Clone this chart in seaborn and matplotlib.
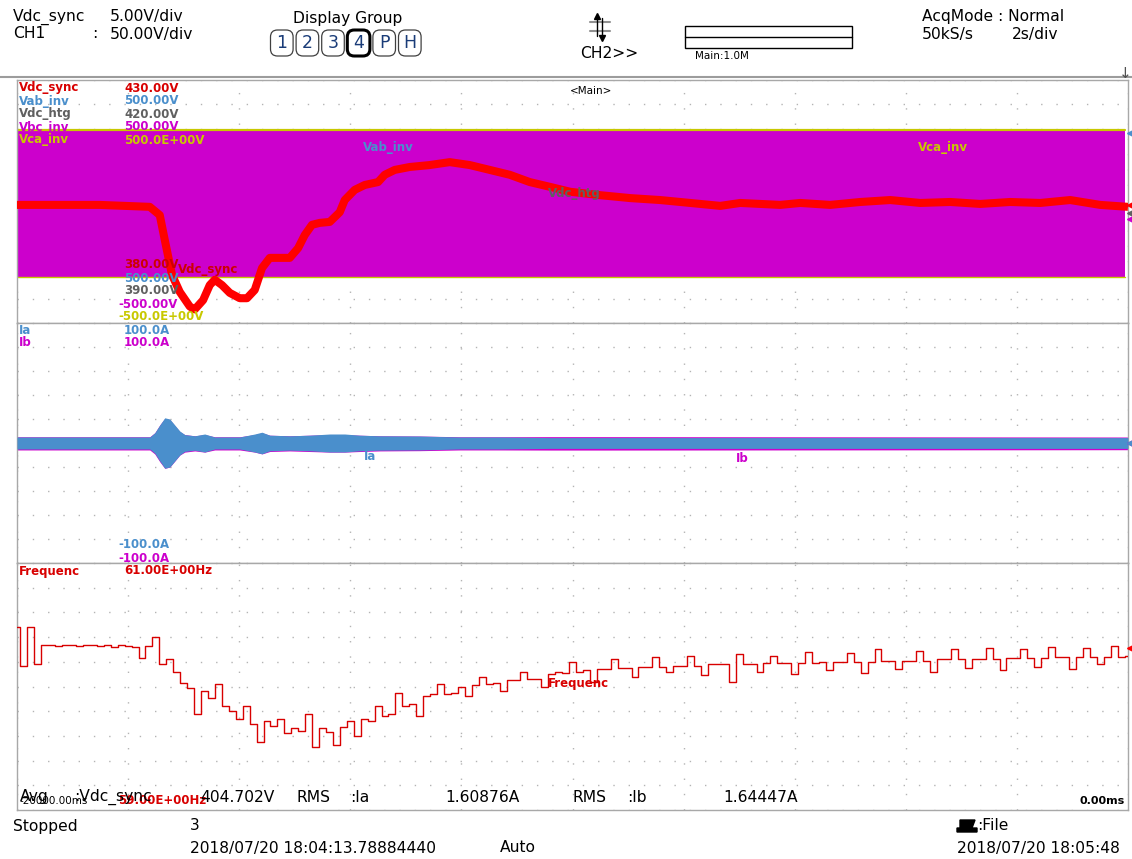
import numpy as np
import matplotlib
matplotlib.use("Agg")
import matplotlib.pyplot as plt
import seaborn as sns
from matplotlib.patches import FancyBboxPatch, Rectangle, Polygon

sns.set_theme(style="white")
plt.rcParams['font.family'] = ['DejaVu Sans']

# ---------------- data ----------------
# Vdc_sync (V) vs time (s)
vdc_t = [-20.0, -18.51, -17.61, -17.43, -17.34, -17.21, -17.07, -16.89, -16.80, -16.65,
         -16.53, -16.44, -16.31, -16.17, -15.99, -15.86, -15.72, -15.59, -15.45, -15.30,
         -15.09, -14.94, -14.82, -14.69, -14.55, -14.37, -14.19, -14.10, -13.92, -13.74,
         -13.50, -13.38, -13.20, -12.93, -12.57, -12.21, -11.85, -11.49, -11.13, -10.77,
         -10.40, -10.04, -9.50, -8.96, -8.42, -7.88, -7.34, -6.98, -6.62, -6.26,
         -5.90, -5.36, -4.82, -4.28, -3.74, -3.20, -2.66, -2.12, -1.58, -1.04, -0.50, 0.0]
vdc_v = [404.3, 404.3, 403.9, 402.2, 397.1, 389.9, 386.4, 383.4, 382.8, 384.7,
         387.8, 388.9, 387.8, 386.2, 385.1, 385.1, 386.8, 391.3, 393.4, 393.4,
         393.4, 395.4, 398.1, 400.2, 400.6, 400.8, 402.8, 405.3, 407.4, 408.4,
         409.0, 410.5, 411.5, 412.1, 412.5, 413.1, 412.5, 411.5, 410.5, 409.0,
         408.0, 407.0, 406.3, 405.7, 405.3, 404.7, 404.1, 404.7, 404.5, 404.3,
         404.7, 404.3, 404.9, 405.3, 404.7, 404.9, 404.5, 404.9, 404.7, 405.3, 404.3, 403.9]

# Vbc_inv / Vca_inv envelope shown in Vdc_sync display units
band_t = [-20.0, -0.05]
band_hi = [419.7, 419.7]
band_lo = [389.5, 389.5]

# Ia / Ib envelope (A)
ia_t = [-20.0, -17.61, -17.52, -17.43, -17.34, -17.25, -17.16, -17.07, -16.98, -16.80,
        -16.62, -16.44, -15.99, -15.72, -15.59, -15.45, -15.09, -14.73, -14.37, -14.10,
        -13.83, -13.47, -12.75, -12.03, -11.31, -10.40, -9.50, 0.0]
ia_amp = [5.0, 5.0, 8.5, 15.0, 21.0, 20.0, 15.0, 10.0, 7.0, 6.0,
          7.5, 5.0, 5.0, 7.5, 9.0, 6.5, 6.0, 6.5, 7.5, 7.5,
          6.5, 6.0, 5.8, 5.0, 5.0, 4.5, 4.5, 4.5]
ib_amp = [5.2, 5.2, 8.5, 15.0, 20.5, 19.5, 14.5, 9.5, 7.0, 6.0,
          7.0, 5.2, 5.2, 7.0, 8.5, 6.5, 6.0, 6.5, 7.0, 7.0,
          6.5, 6.0, 5.8, 5.2, 5.2, 5.3, 5.3, 5.0]

# Frequency (Hz), sampled every 0.125 s from -20 s to 0 s
freq_hz = [60.48, 60.17, 60.48, 60.18, 60.34, 60.34, 60.33, 60.34, 60.34, 60.33,
           60.34, 60.34, 60.33, 60.34, 60.32, 60.34, 60.33, 60.32, 60.23, 60.33,
           60.40, 60.18, 60.22, 60.12, 60.03, 59.99, 59.78, 59.96, 59.91, 60.02,
           59.84, 59.80, 59.74, 59.84, 59.70, 59.55, 59.72, 59.68, 59.74, 59.62,
           59.66, 59.64, 59.78, 59.51, 59.66, 59.63, 59.53, 59.67, 59.72, 59.60,
           59.74, 59.72, 59.84, 59.76, 59.78, 59.95, 59.84, 59.86, 59.76, 59.92,
           59.94, 60.02, 59.94, 59.95, 60.00, 59.92, 60.01, 60.08, 60.02, 60.03,
           59.96, 60.05, 60.05, 60.12, 60.06, 60.06, 60.00, 60.10, 60.12, 60.11,
           60.20, 60.12, 60.13, 60.04, 60.14, 60.14, 60.22, 60.15, 60.15, 60.08,
           60.16, 60.16, 60.24, 60.16, 60.12, 60.17, 60.17, 60.25, 60.17, 60.09,
           60.18, 60.18, 60.18, 60.04, 60.26, 60.18, 60.18, 60.12, 60.19, 60.25,
           60.19, 60.19, 60.10, 60.19, 60.28, 60.19, 60.20, 60.13, 60.20, 60.20,
           60.27, 60.20, 60.11, 60.20, 60.30, 60.21, 60.21, 60.14, 60.21, 60.21,
           60.29, 60.21, 60.12, 60.22, 60.22, 60.30, 60.22, 60.15, 60.22, 60.22,
           60.31, 60.22, 60.13, 60.23, 60.23, 60.30, 60.23, 60.16, 60.23, 60.32,
           60.24, 60.24, 60.14, 60.24, 60.31, 60.24, 60.18, 60.24, 60.33, 60.24, 60.25]
freq_t = np.linspace(-20.0, 0.0, len(freq_hz))

# ---------------- colours ----------------
RED = '#ff0000'
RED_T = '#d80000'
BLUE = '#4a8fcc'
GRAY = '#606060'
MAG = '#cc00cc'
YEL = '#c8c800'
NAVY = '#1a3c78'

W, H = 1132, 859
fig = plt.figure(figsize=(W / 100, H / 100), dpi=100)
fig.patch.set_facecolor('white')


def fx(x):
    return x / W


def fy(y):
    return 1 - y / H


L, R = 17, 1128
ax1 = fig.add_axes([fx(L), fy(323), (R - L) / W, (323 - 80) / H])
ax2 = fig.add_axes([fx(L), fy(563), (R - L) / W, (563 - 323) / H])
ax3 = fig.add_axes([fx(L), fy(810), (R - L) / W, (810 - 563) / H])

for ax, (lo, hi) in zip([ax1, ax2, ax3], [(380, 430), (-100, 100), (59, 61)]):
    ax.set_xlim(-20, 0)
    ax.set_ylim(lo, hi)
    ax.set_xticks(np.arange(-20, 0.01, 2))
    ax.set_yticks(np.linspace(lo, hi, 11))
    ax.grid(True, linestyle=(0, (1, 10)), color='#b4b4b4', linewidth=1.0)
    ax.set_axisbelow(True)
    ax.tick_params(length=0, labelbottom=False, labelleft=False)
    for s in ax.spines.values():
        s.set_color('#a8a8a8')
        s.set_linewidth(1.0)
    ax.set_facecolor('white')

# panel 1
ax1.fill_between(band_t, band_lo, band_hi, color=MAG, linewidth=0, zorder=2)
ax1.plot(band_t, band_hi, color=YEL, lw=1.6, zorder=2.5)
ax1.plot(band_t, band_lo, color=YEL, lw=1.0, zorder=2.5)
sns.lineplot(x=vdc_t, y=vdc_v, ax=ax1, color=RED, lw=5.8, zorder=3,
             errorbar=None, solid_capstyle='butt')

# panel 2
ib_lo = [-a - 0.6 for a in ib_amp]
ia_lo = [-a for a in ia_amp]
ax2.fill_between(ia_t, ib_lo, ib_amp, color=MAG, linewidth=0, zorder=2)
ax2.fill_between(ia_t, ia_lo, ia_amp, color=BLUE, linewidth=0, zorder=3)

# panel 3
sns.lineplot(x=freq_t, y=freq_hz, ax=ax3, color=RED_T, lw=1.0, zorder=3,
             errorbar=None, drawstyle='steps-mid')

for ax in (ax1, ax2, ax3):
    ax.set_xlabel('')
    ax.set_ylabel('')
    if ax.get_legend():
        ax.get_legend().remove()

# ---------------- overlay (texts & decorations) ----------------
ov = fig.add_axes([0, 0, 1, 1])
ov.set_xlim(0, W)
ov.set_ylim(H, 0)
ov.axis('off')

HF = 11.2


def T(x, y, s, c='black', fs=HF, **kw):
    ov.text(x, y, s, color=c, fontsize=fs, va='center', ha=kw.pop('ha', 'left'), **kw)


# header
T(13, 17, 'Vdc_sync')
T(110, 17, '5.00V/div')
T(13, 34, 'CH1')
T(92, 34, ':')
T(110, 34, '50.00V/div')
T(348, 19, 'Display Group', ha='center')
bx0, bw = 269, 25.6
for i, lab in enumerate(['1', '2', '3', '4', 'P', 'H']):
    x0 = bx0 + i * bw
    lw = 2.2 if lab == '4' else 0.9
    ec = 'black' if lab == '4' else '#404040'
    ov.add_patch(FancyBboxPatch((x0 + 1.5, 30), bw - 3, 26,
                                boxstyle='round,pad=0,rounding_size=7',
                                fc='white', ec=ec, lw=lw))
    T(x0 + bw / 2, 43.5, lab, c=NAVY, fs=12.5, ha='center')

# cursor icon
ov.plot([590, 610], [22, 22], color='#909090', lw=1.5)
ov.plot([590, 610], [31, 31], color='#909090', lw=1.5)
ov.plot([597, 597], [16, 36], color='black', lw=1)
ov.plot([602, 602], [18, 38], color='black', lw=1)
ov.plot([597], [16], marker='^', color='black', ms=4)
ov.plot([602], [38], marker='v', color='black', ms=4)
T(580, 54, 'CH2>>')

ov.add_patch(Rectangle((685, 26), 167, 22, fc='white', ec='black', lw=1))
ov.plot([685, 852], [37, 37], color='black', lw=1)
T(695, 56, 'Main:1.0M', fs=7.5)

T(922, 17, 'AcqMode : Normal')
T(922, 35, '50kS/s')
T(1012, 35, '2s/div')

ov.plot([0, W], [77, 77], color='#9c9c9c', lw=1.5)
T(1125, 74, '\u2193', fs=11, ha='center', c='#505050')

# panel labels
LF = 8.5


def PL(x, y, s, c, **kw):
    T(x, y, s, c=c, fs=LF, fontweight='bold', **kw)


rows = [(88, 'Vdc_sync', '430.00V', RED_T), (101, 'Vab_inv', '500.00V', BLUE),
        (114, 'Vdc_htg', '420.00V', GRAY), (127, 'Vbc_inv', '500.00V', MAG),
        (140, 'Vca_inv', '500.0E+00V', YEL)]
for y, n, v, c in rows:
    PL(19, y, n, c)
    PL(124, y, v, c)
for y, v, c in [(265, '380.00V', '#cc0000'), (278, '500.00V', BLUE), (291, '390.00V', GRAY)]:
    PL(124, y, v, c)
for y, v, c in [(304, '-500.00V', MAG), (317, '-500.0E+00V', YEL)]:
    PL(118, y, v, c)
T(570, 91, '<Main>', fs=7.5)
PL(363, 147, 'Vab_inv', BLUE)
PL(548, 193, 'Vdc_htg', GRAY)
PL(918, 147, 'Vca_inv', YEL)
PL(178, 270, 'Vdc_sync', '#cc0000')

PL(19, 330, 'Ia', BLUE)
PL(124, 330, '100.0A', BLUE)
PL(19, 343, 'Ib', MAG)
PL(124, 343, '100.0A', MAG)
PL(118, 545, '-100.0A', BLUE)
PL(118, 558, '-100.0A', MAG)
PL(364, 457, 'Ia', BLUE)
PL(736, 459, 'Ib', MAG)

PL(19, 571, 'Frequenc', RED_T)
PL(124, 571, '61.00E+00Hz', RED_T)
PL(548, 684, 'Frequenc', RED_T)
PL(118, 800, '59.00E+00Hz', RED_T)

# right-side markers
for y, c in [(133, BLUE), (205, RED), (213, GRAY), (219, MAG), (443, MAG), (443, BLUE), (648, RED)]:
    ov.plot([1131], [y], marker='<', color=c, ms=6, clip_on=False)

# measurement row
T(20, 801, '-20000.00ms', fs=7.5)
T(20, 797, 'Avg')
T(74, 797, ':Vdc_sync')
T(200, 797, '404.702V')
T(297, 797, 'RMS')
T(350, 797, ':Ia')
T(445, 797, '1.60876A')
T(573, 797, 'RMS')
T(627, 797, ':Ib')
T(723, 797, '1.64447A')
T(1125, 801, '0.00ms', fs=8, ha='right', fontweight='bold')

# status bar
T(13, 826, 'Stopped')
T(190, 826, '3')
T(190, 848, '2018/07/20 18:04:13.78884440')
T(500, 848, 'Auto')
ov.add_patch(Polygon([[960, 820], [975, 820], [972, 828], [977, 828], [977, 832], [957, 832], [957, 828], [960, 828]],
                     closed=True, fc='black', ec='black'))
T(977, 826, ':File')
T(957, 848, '2018/07/20 18:05:48')

fig.savefig('out.png', dpi=100, facecolor='white')
